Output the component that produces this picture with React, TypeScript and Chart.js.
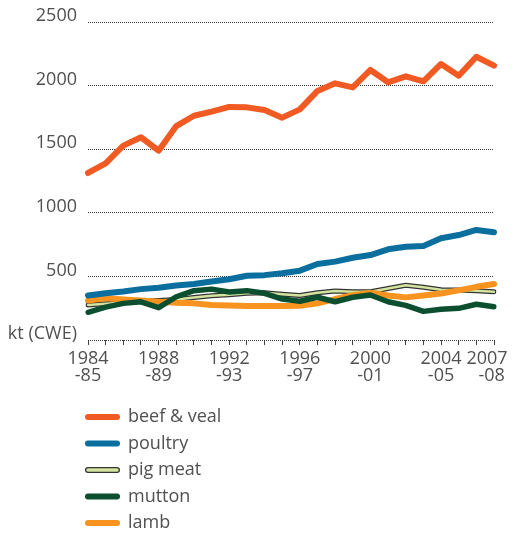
import React, { useEffect, useRef } from "react";
import { Chart, registerables } from "chart.js";

Chart.register(...registerables);

// ---- data ----
const years = [
  "1984", "1985", "1986", "1987", "1988", "1989", "1990", "1991",
  "1992", "1993", "1994", "1995", "1996", "1997", "1998", "1999",
  "2000", "2001", "2002", "2003", "2004", "2005", "2006", "2007",
];
const labeledYears = ["1984", "1988", "1992", "1996", "2000", "2004", "2007"];

const beefVeal = [
  1313, 1389, 1528, 1594, 1488, 1682, 1763, 1795, 1832, 1829, 1808, 1748,
  1813, 1958, 2018, 1986, 2123, 2026, 2073, 2034, 2170, 2078, 2227, 2157,
];
const poultry = [
  350, 368, 382, 400, 410, 428, 440, 460, 478, 505, 510, 525,
  545, 597, 616, 647, 668, 713, 733, 739, 800, 825, 865, 847,
];
const pigMeat = [
  275, 285, 295, 303, 310, 318, 335, 348, 355, 368, 372, 360,
  350, 372, 385, 380, 380, 405, 430, 415, 395, 393, 388, 380,
];
const mutton = [
  218, 258, 288, 300, 254, 340, 388, 400, 378, 388, 367, 322,
  305, 336, 301, 336, 354, 301, 272, 225, 241, 249, 281, 262,
];
const lamb = [
  310, 328, 318, 310, 300, 292, 288, 276, 272, 268, 268, 267,
  270, 288, 322, 352, 372, 350, 335, 350, 365, 390, 418, 440,
];

const yMin = 0;
const yMax = 2500;
const yStep = 500;
const zeroLabel = "kt (CWE)";

const seriesNames = ["beef & veal", "poultry", "pig meat", "mutton", "lamb"];

// ---- styles ----
const C_BEEF = "#f15a22";
const C_POULTRY = "#0a6e9e";
const C_PIG = "#d3e3a0";
const C_PIG_EDGE = "#333333";
const C_MUTTON = "#0c4f30";
const C_LAMB = "#f7931e";
const TEXT = "#505050";
const FONT = "'Open Sans', 'Noto Sans', sans-serif";

const legendPlugin = {
  id: "sideLegend",
  afterDraw(chart: any) {
    const ctx = chart.ctx as CanvasRenderingContext2D;
    const colors = [C_BEEF, C_POULTRY, C_PIG, C_MUTTON, C_LAMB];
    const x0 = 88;
    const x1 = 117;
    const yStart = 417;
    const gap = 26.5;
    ctx.save();
    ctx.lineCap = "round";
    seriesNames.forEach((name, i) => {
      const y = yStart + i * gap;
      if (i === 2) {
        ctx.strokeStyle = C_PIG_EDGE;
        ctx.lineWidth = 6;
        ctx.beginPath();
        ctx.moveTo(x0, y);
        ctx.lineTo(x1, y);
        ctx.stroke();
        ctx.strokeStyle = C_PIG;
        ctx.lineWidth = 3.5;
        ctx.beginPath();
        ctx.moveTo(x0, y);
        ctx.lineTo(x1, y);
        ctx.stroke();
      } else {
        ctx.strokeStyle = colors[i];
        ctx.lineWidth = 6;
        ctx.beginPath();
        ctx.moveTo(x0, y);
        ctx.lineTo(x1, y);
        ctx.stroke();
      }
      ctx.fillStyle = TEXT;
      ctx.font = `18px ${FONT}`;
      ctx.textBaseline = "middle";
      ctx.textAlign = "left";
      ctx.fillText(name, 128, y);
    });
    ctx.restore();
  },
};

export default function App() {
  const ref = useRef<HTMLCanvasElement | null>(null);

  useEffect(() => {
    document.body.style.margin = "0";
    const canvas = ref.current;
    if (!canvas) return;

    const line = (data: number[], color: string, width: number) => ({
      data,
      borderColor: color,
      backgroundColor: color,
      borderWidth: width,
      pointRadius: 0,
      tension: 0,
      borderJoinStyle: "round" as const,
      borderCapStyle: "round" as const,
      fill: false,
    });

    const chart = new Chart(canvas, {
      type: "line",
      data: {
        labels: years,
        datasets: [
          { label: seriesNames[0], ...line(beefVeal, C_BEEF, 6) },
          { label: seriesNames[1], ...line(poultry, C_POULTRY, 6) },
          { label: seriesNames[3], ...line(mutton, C_MUTTON, 5.5) },
          { label: seriesNames[4], ...line(lamb, C_LAMB, 6) },
          { label: seriesNames[2], ...line(pigMeat, C_PIG, 2.5) },
          { label: seriesNames[2] + " edge", ...line(pigMeat, C_PIG_EDGE, 5) },
        ],
      },
      options: {
        animation: false,
        responsive: true,
        maintainAspectRatio: false,
        layout: { padding: { left: 0, right: 19, top: 22, bottom: 134 } },
        plugins: {
          legend: { display: false },
          tooltip: { enabled: false },
        },
        scales: {
          x: {
            type: "category",
            offset: false,
            afterFit(scale: any) {
              scale.height = 60;
              scale.paddingLeft = 0;
              scale.paddingRight = 0;
            },
            border: { display: false },
            grid: {
              drawOnChartArea: false,
              drawTicks: true,
              tickLength: 5,
              color: "#444444",
              lineWidth: 1,
            },
            ticks: {
              autoSkip: false,
              maxRotation: 0,
              minRotation: 0,
              padding: 5,
              color: TEXT,
              font: { family: FONT, size: 18, lineHeight: 0.95 },
              callback(_v: any, index: number) {
                const y = years[index];
                if (!labeledYears.includes(y)) return "";
                const next = String((Number(y) + 1) % 100).padStart(2, "0");
                if (index === years.length - 1) return [y + "   ", "-" + next + " "];
                return [y, "-" + next];
              },
            },
          },
          y: {
            min: yMin,
            max: yMax,
            afterFit(scale: any) {
              scale.width = 88;
              scale.paddingTop = 0;
              scale.paddingBottom = 0;
            },
            border: { display: false, dash: [1, 1] },
            grid: {
              drawTicks: false,
              color: "#3a3a3a",
              lineWidth: 1,
            },
            ticks: {
              stepSize: yStep,
              padding: 11,
              labelOffset: -6,
              color: TEXT,
              font: { family: FONT, size: 18 },
              callback(v: any) {
                return Number(v) === 0 ? zeroLabel : String(v);
              },
            },
          },
        },
      },
      plugins: [legendPlugin],
    });

    return () => chart.destroy();
  }, []);

  return (
    <div style={{ width: 513, height: 534, position: "relative" }}>
      <canvas ref={ref} />
    </div>
  );
}
